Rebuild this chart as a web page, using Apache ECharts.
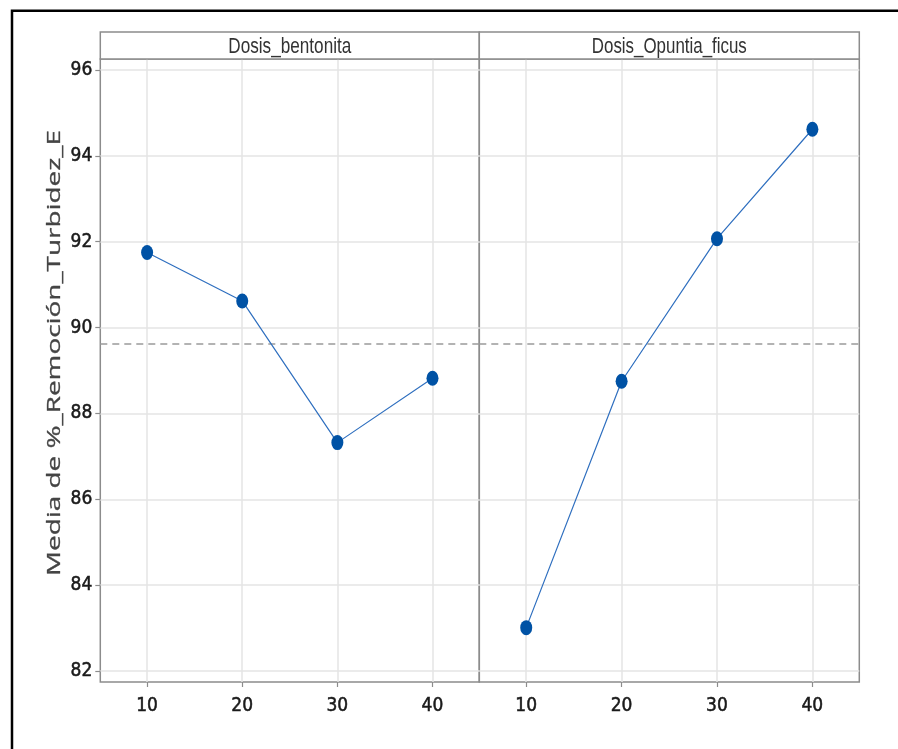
<!DOCTYPE html>
<html>
<head>
<meta charset="utf-8">
<script src="https://cdn.jsdelivr.net/npm/echarts@6/dist/echarts.min.js"></script>
<style>
html,body{margin:0;padding:0;background:#fff;}
#chart{width:898px;height:749px;}
</style>
</head>
<body>
<div id="chart"></div>
<script>
// ---- data ----
const doses = [10, 20, 30, 40];
const panels = ['Dosis_bentonita', 'Dosis_Opuntia_ficus'];
const bentonitaMeans = [91.75, 90.62, 87.32, 88.82];
const opuntiaMeans = [83.01, 88.75, 92.07, 94.62];
const overallMean = 89.63;
const yTicks = [82, 84, 86, 88, 90, 92, 94, 96];
const yTitle = 'Media de %_Remoción_Turbidez_E';

const narrow = "'Liberation Sans Narrow','Arial Narrow','DejaVu Sans Condensed',sans-serif";

function measure(text, font) {
  const c = document.createElement('canvas').getContext('2d');
  c.font = font;
  return c.measureText(text).width;
}

const chart = echarts.init(document.getElementById('chart'), null, {renderer: 'canvas'});

const gridColor = '#e4e4e4';
const frameColor = '#8c8c8c';
const labelStyle = {color: '#1a1a1a', fontSize: 19, fontWeight: 'normal', fontFamily: narrow,
  textBorderColor: '#1a1a1a', textBorderWidth: 0.5};

function xAxisCfg(idx) {
  return {
    type: 'value', gridIndex: idx, min: 5.08, max: 44.92,
    axisLine: {show: false},
    axisTick: {show: true, length: 5, customValues: doses, lineStyle: {color: frameColor, width: 1.2}},
    axisLabel: Object.assign({customValues: doses, margin: 15}, labelStyle),
    splitLine: {show: true, lineStyle: {color: gridColor, width: 1.5}}
  };
}
function yAxisCfg(idx, showLabels) {
  return {
    type: 'value', gridIndex: idx, min: 81.744, max: 96.256,
    axisLine: {show: false},
    axisTick: {show: showLabels, length: 5, customValues: yTicks, lineStyle: {color: frameColor, width: 1.2}},
    axisLabel: Object.assign({show: showLabels, customValues: yTicks, margin: 8, padding: [6, 0, 0, 0]}, labelStyle),
    splitLine: {show: true, lineStyle: {color: gridColor, width: 1.5}}
  };
}

function seriesCfg(idx, values) {
  return {
    type: 'line', xAxisIndex: idx, yAxisIndex: idx,
    data: doses.map((d, i) => [d, values[i]]),
    symbol: 'circle', symbolSize: [12, 15],
    itemStyle: {color: '#0052a5'},
    lineStyle: {color: '#2f6fbf', width: 1.2},
    z: 5,
    markLine: {
      silent: true, symbol: 'none', label: {show: false},
      lineStyle: {color: '#9a9a9a', type: [7, 5], width: 1.5},
      data: [{yAxis: overallMean}],
      z: 3
    }
  };
}

const titleFont = '19px "Open Sans"';
const titleScale = 446 / measure(yTitle, titleFont);
const stripFont = '22px "Liberation Sans"';
const stripTargets = [123, 155];

const stripX = [100.3, 479.3];
const stripW = [379, 380];

const graphics = [
  {type: 'rect', shape: {x: 12, y: 10.7, width: 1000, height: 1000}, style: {fill: null, stroke: '#000', lineWidth: 2.5}, z: 100}
];
panels.forEach((p, i) => {
  graphics.push({type: 'rect', shape: {x: stripX[i], y: 32, width: stripW[i], height: 27}, style: {fill: '#fff', stroke: frameColor, lineWidth: 1.5}, z: 10});
  graphics.push({type: 'text', x: stripX[i] + stripW[i] / 2, y: 47,
    scaleX: stripTargets[i] / measure(p, stripFont),
    style: {text: p, font: stripFont, fill: '#333', align: 'center', verticalAlign: 'middle'}, z: 11});
});
graphics.push({type: 'text', x: 55, y: 353, rotation: Math.PI / 2, scaleX: titleScale,
  style: {text: yTitle, font: titleFont, fill: '#444', align: 'center', verticalAlign: 'middle',
    stroke: '#444', lineWidth: 0.3}, z: 11});

chart.setOption({
  animation: false,
  backgroundColor: '#fff',
  grid: [
    {left: 100.3, top: 59, width: 379, height: 623, show: true, borderColor: frameColor, borderWidth: 1.5, backgroundColor: 'transparent'},
    {left: 479.3, top: 59, width: 380, height: 623, show: true, borderColor: frameColor, borderWidth: 1.5, backgroundColor: 'transparent'}
  ],
  xAxis: [xAxisCfg(0), xAxisCfg(1)],
  yAxis: [yAxisCfg(0, true), yAxisCfg(1, false)],
  series: [seriesCfg(0, bentonitaMeans), seriesCfg(1, opuntiaMeans)],
  graphic: graphics
});
</script>
</body>
</html>
